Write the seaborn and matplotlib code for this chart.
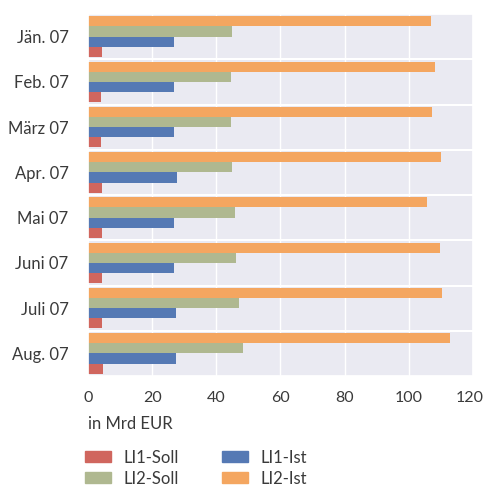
import numpy as np
import pandas as pd
import matplotlib
matplotlib.use('Agg')
import matplotlib.pyplot as plt
import matplotlib.transforms as mtransforms
import seaborn as sns

months = ['Jän. 07', 'Feb. 07', 'März 07', 'Apr. 07', 'Mai 07', 'Juni 07', 'Juli 07', 'Aug. 07']
li1_soll = [4.3, 4.0, 4.0, 4.3, 4.3, 4.3, 4.3, 4.7]
li2_soll = [44.8, 44.5, 44.5, 44.8, 45.7, 46.0, 47.0, 48.2]
li1_ist = [26.8, 26.8, 26.8, 27.7, 26.8, 26.8, 27.4, 27.4]
li2_ist = [107.0, 108.2, 107.3, 110.1, 105.8, 109.8, 110.4, 112.9]

series = ['LI2-Ist', 'LI2-Soll', 'LI1-Ist', 'LI1-Soll']
colors = {'LI1-Soll': '#D0665E', 'LI2-Soll': '#AFB890', 'LI1-Ist': '#5579B4', 'LI2-Ist': '#F4A660'}

df = pd.DataFrame({'Monat': months, 'LI1-Soll': li1_soll, 'LI2-Soll': li2_soll,
                   'LI1-Ist': li1_ist, 'LI2-Ist': li2_ist})
long_df = df.melt(id_vars='Monat', value_vars=series, var_name='Serie', value_name='Wert')

sns.set_theme(style='darkgrid')
plt.rcParams['font.family'] = ['Lato', 'DejaVu Sans']

fig = plt.figure(figsize=(4.85, 4.87), dpi=100)
ax = fig.add_axes([88 / 485, 1 - 376 / 487, 385 / 485, 362 / 487])
sns.barplot(data=long_df, y='Monat', x='Wert', hue='Serie', hue_order=series,
            palette=colors, orient='h', width=0.9, gap=0, saturation=1, ax=ax,
            legend=False, linewidth=0, edgecolor='none')

ax.set_xlim(0, 120)
ax.set_ylim(len(months) - 0.5, -0.5)
ax.set_xticks(np.arange(0, 121, 20))
ax.set_yticks(np.arange(len(months) - 1) + 0.5, minor=True)
ax.grid(False, axis='y', which='major')
ax.grid(True, axis='y', which='minor', color='white', linewidth=1.5)
ax.tick_params(axis='both', which='both', length=0, labelsize=12, colors='#3a3a3a')
ax.tick_params(axis='x', pad=11, labelsize=11.5)
ax.tick_params(axis='y', pad=14)
ax.set_ylabel('')
ax.set_xlabel('in Mrd EUR', fontsize=12, color='#3a3a3a', loc='left', labelpad=8)

# keep the "120" label inside the figure
last = ax.get_xticklabels()[-1]
last.set_transform(last.get_transform() + mtransforms.ScaledTranslation(-3 / 100, 0, fig.dpi_scale_trans))

handles = [plt.Rectangle((0, 0), 1, 1, color=colors[s]) for s in ['LI1-Soll', 'LI2-Soll', 'LI1-Ist', 'LI2-Ist']]
labels = ['LI1-Soll', 'LI2-Soll', 'LI1-Ist', 'LI2-Ist']
leg = fig.legend(handles, labels, ncol=2, loc='upper left', bbox_to_anchor=(78 / 485, 1 - 443 / 487),
                 frameon=False, fontsize=12, handlelength=1.55, handleheight=0.65,
                 columnspacing=2.55, labelspacing=0.3, handletextpad=0.8, borderaxespad=0)
for t in leg.get_texts():
    t.set_color('#3a3a3a')

fig.savefig('out.png', dpi=100)
